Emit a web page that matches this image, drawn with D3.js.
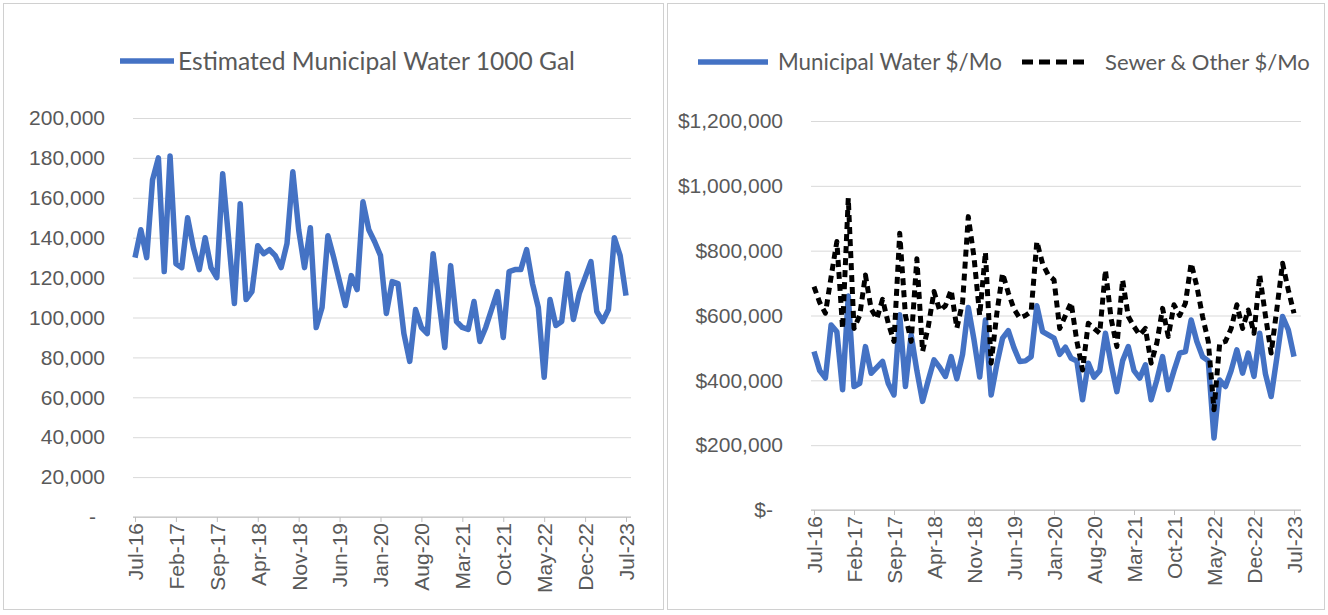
<!DOCTYPE html>
<html>
<head>
<meta charset="utf-8">
<script src="https://cdn.jsdelivr.net/npm/d3@7"></script>
<style>
  body { margin: 0; background: #fff; }
  svg { display: block; font-family: Lato, "Open Sans", sans-serif; }
</style>
</head>
<body>
<svg id="chart" width="1328" height="615"></svg>
<script>
// monthly values, Jul-16 .. Jul-23 (85 months)
const tickLabels = ["Jul-16", "Feb-17", "Sep-17", "Apr-18", "Nov-18", "Jun-19", "Jan-20",
                    "Aug-20", "Mar-21", "Oct-21", "May-22", "Dec-22", "Jul-23"];

const waterGal = [
  130000, 144000, 130000, 169000, 180000, 123000, 181000, 127000, 125000, 150000,
  135000, 124000, 140000, 125000, 120000, 172000, 140000, 107000, 157000, 109000,
  113000, 136000, 132000, 134000, 131000, 125000, 137000, 173000, 144000, 125000,
  145000, 95000, 105000, 141000, 130000, 118000, 106000, 121000, 114000, 158000,
  144000, 138000, 131000, 102000, 118000, 117000, 92000, 78000, 104000, 95000,
  92000, 132000, 108000, 85000, 126000, 98000, 95000, 94000, 108000, 88000,
  95000, 104000, 113000, 90000, 123000, 124000, 124000, 134000, 117000, 105000,
  70000, 109000, 96000, 98000, 122000, 99000, 112000, 120000, 128000, 103000,
  98000, 104000, 140000, 131000, 111000
];

const waterCost = [
  489000, 430000, 407000, 571000, 550000, 371000, 660000, 381000, 391000, 504000,
  422000, 440000, 458000, 390000, 355000, 602000, 381000, 540000, 430000, 335000,
  400000, 463000, 440000, 412000, 473000, 405000, 480000, 625000, 525000, 410000,
  586000, 355000, 450000, 530000, 553000, 500000, 458000, 460000, 473000, 630000,
  550000, 540000, 530000, 480000, 502000, 468000, 460000, 340000, 453000, 410000,
  430000, 545000, 450000, 365000, 460000, 504000, 430000, 407000, 448000, 340000,
  401000, 473000, 371000, 430000, 484000, 489000, 586000, 520000, 473000, 460000,
  222000, 401000, 381000, 430000, 494000, 422000, 484000, 412000, 545000, 420000,
  350000, 470000, 597000, 556000, 473000
];

const sewerCost = [
  689000, 640000, 607000, 720000, 828000, 560000, 962000, 560000, 600000, 725000,
  620000, 590000, 650000, 576000, 520000, 854000, 600000, 520000, 775000, 489000,
  566000, 674000, 615000, 630000, 679000, 561000, 640000, 905000, 780000, 600000,
  795000, 453000, 607000, 730000, 670000, 620000, 592000, 600000, 612000, 828000,
  760000, 725000, 710000, 560000, 600000, 640000, 520000, 432000, 576000, 560000,
  545000, 740000, 590000, 504000, 710000, 597000, 566000, 540000, 560000, 453000,
  515000, 622000, 535000, 633000, 600000, 638000, 761000, 690000, 597000, 520000,
  309000, 515000, 520000, 560000, 633000, 560000, 617000, 545000, 725000, 600000,
  484000, 620000, 761000, 679000, 607000
];

const leftTicks = [0, 20000, 40000, 60000, 80000, 100000, 120000, 140000, 160000, 180000, 200000];
const rightTicks = [0, 200000, 400000, 600000, 800000, 1000000, 1200000];

const BLUE = "#4472C4", TEXT = "#595959", GRID = "#d9d9d9";
const FS = 21;

const svg = d3.select("#chart");

// panel frames
svg.append("rect").attr("x", 3.5).attr("y", 3.5).attr("width", 660).attr("height", 606)
  .attr("fill", "none").attr("stroke", "#d0d0d0");
svg.append("rect").attr("x", 667.5).attr("y", 3.5).attr("width", 657).attr("height", 606)
  .attr("fill", "none").attr("stroke", "#d0d0d0");

function panel(cfg) {
  const x = d3.scaleLinear().domain([0, 84]).range([cfg.x0, cfg.x1]);
  const y = d3.scaleLinear().domain([0, cfg.yMax]).range([cfg.yBottom, cfg.yTop]);
  const g = svg.append("g");

  // gridlines + y labels
  const gy = g.append("g")
    .attr("transform", `translate(${cfg.gridL},0)`)
    .call(d3.axisLeft(y).tickValues(cfg.yTicks)
      .tickSize(-(cfg.gridR - cfg.gridL)).tickPadding(28)
      .tickFormat(cfg.fmt));
  gy.select(".domain").remove();
  gy.selectAll("line").attr("stroke", GRID);
  gy.selectAll("text").attr("fill", TEXT).attr("font-size", FS)
    .attr("dx", d => d === 0 ? cfg.zeroShift : 0);

  // x axis
  const gx = g.append("g")
    .attr("transform", `translate(0,${cfg.yBottom})`)
    .call(d3.axisBottom(x).tickValues(d3.range(0, 85, 7)).tickSize(5).tickSizeOuter(0)
      .tickFormat(d => tickLabels[d / 7]));
  gx.select(".domain").remove();
  gx.selectAll("line").attr("stroke", "#bfbfbf");
  gx.selectAll("text")
    .attr("transform", "rotate(-90)")
    .attr("text-anchor", "end")
    .attr("x", -6).attr("y", 0).attr("dy", "0.35em")
    .attr("fill", TEXT).attr("font-size", FS);
  g.append("line").attr("x1", cfg.gridL).attr("x2", cfg.gridR)
    .attr("y1", cfg.yBottom).attr("y2", cfg.yBottom).attr("stroke", "#bfbfbf");

  const line = d3.line().x((d, i) => x(i)).y(d => y(d));
  cfg.series.forEach(s => {
    g.append("path").datum(s.values)
      .attr("d", line)
      .attr("fill", "none")
      .attr("stroke", s.color)
      .attr("stroke-width", s.width)
      .attr("stroke-linejoin", "round")
      .attr("stroke-dasharray", s.dash || null);
  });

  // legend
  cfg.legend.forEach(l => {
    g.append("line").attr("x1", l.lx0).attr("x2", l.lx1).attr("y1", l.ly).attr("y2", l.ly)
      .attr("stroke", l.color).attr("stroke-width", l.width)
      .attr("stroke-dasharray", l.dash || null);
    const t = g.append("text").attr("x", l.tx).attr("y", l.ly).attr("dy", "0.35em")
      .attr("fill", TEXT).attr("font-size", 20).text(l.label);
    const w = t.node().getComputedTextLength();
    t.attr("font-size", 20 * l.tw / w);
  });
}

panel({
  x0: 135, x1: 626, gridL: 133, gridR: 631,
  yTop: 118, yBottom: 517, yMax: 200000, yTicks: leftTicks,
  fmt: d => d === 0 ? "-" : d3.format(",")(d), zeroShift: -9,
  series: [{ values: waterGal, color: BLUE, width: 5.5 }],
  legend: [{ lx0: 120, lx1: 174, ly: 61, tx: 178, tw: 397, color: BLUE, width: 5.5,
             label: "Estimated Municipal Water 1000 Gal" }]
});

panel({
  x0: 814, x1: 1294, gridL: 811, gridR: 1301,
  yTop: 121, yBottom: 510, yMax: 1200000, yTicks: rightTicks,
  fmt: d => d === 0 ? "$-" : "$" + d3.format(",")(d), zeroShift: -10,
  series: [
    { values: waterCost, color: BLUE, width: 5.5 },
    { values: sewerCost, color: "#000", width: 5, dash: "7,5" }
  ],
  legend: [
    { lx0: 698, lx1: 768, ly: 62, tx: 778, tw: 224, color: BLUE, width: 5.5,
      label: "Municipal Water $/Mo" },
    { lx0: 1022, lx1: 1090, ly: 62, tx: 1105, tw: 205, color: "#000", width: 5, dash: "11,6",
      label: "Sewer & Other $/Mo" }
  ]
});
</script>
</body>
</html>
